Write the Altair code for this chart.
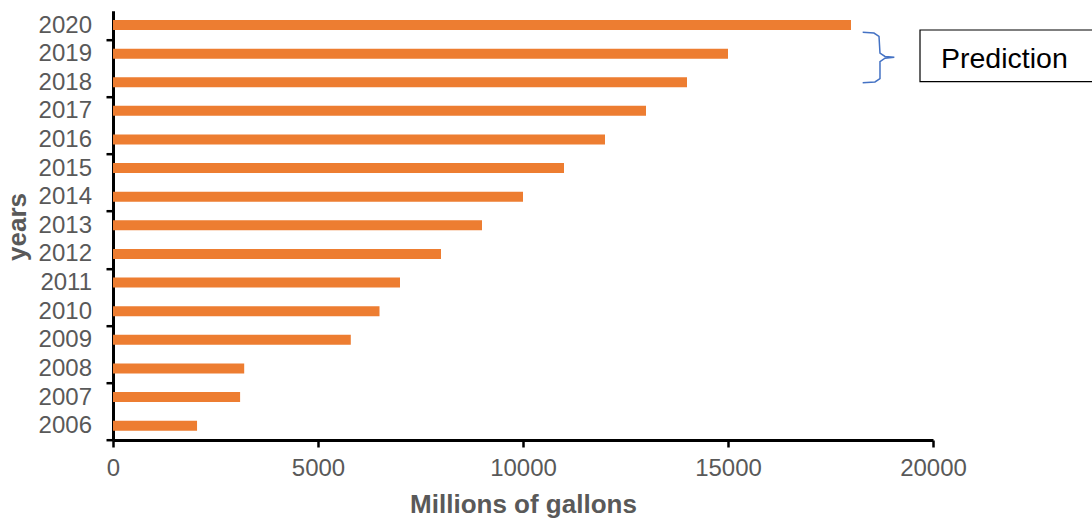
import altair as alt
import pandas as pd

# Annual volume, millions of gallons (2018-2020 are projections)
years = list(range(2006, 2021))
gallons = [2050, 3100, 3200, 5800, 6500, 7000, 8000, 9000, 10000,
           11000, 12000, 13000, 14000, 15000, 18000]

x_ticks = [0, 5000, 10000, 15000, 20000]
# y tick marks sit on every second category boundary
group_edges = [2005.5, 2007.5, 2009.5, 2011.5, 2013.5, 2015.5, 2017.5, 2019.5]

# curly brace next to the projected years (data coordinates)
brace_x = [18285, 18560, 18683, 18707, 18829, 19056, 18829, 18707, 18707, 18585, 18285]
brace_y = [2019.745, 2019.72, 2019.60, 2019.02, 2018.90, 2018.87,
           2018.84, 2018.72, 2018.13, 2018.01, 2017.98]

# "Prediction" call-out box
box_x, box_x2 = [19683], [24100]
box_y, box_y2 = [2019.826], [2018.019]
note_text = ["Prediction"]
note_x, note_y = [20195], [2018.50]

X_DOMAIN = [0, 20000]
Y_DOMAIN = [2005.5, 2020.5]
GRAY = "#595959"
FONT = "Liberation Sans"

bars_df = pd.DataFrame({"year": years, "gallons": gallons})
brace_df = pd.DataFrame({"gallons": brace_x, "year": brace_y, "i": list(range(len(brace_x)))})
box_df = pd.DataFrame({"gallons": box_x, "x2": box_x2, "year": box_y, "y2": box_y2})
note_df = pd.DataFrame({"gallons": note_x, "year": note_y, "t": note_text})

y_values = sorted(group_edges + years)

x_axis = alt.Axis(
    values=x_ticks, tickCount=50, format="d", grid=False,
    domainColor="black", domainWidth=3,
    tickColor="black", tickWidth=2.5, tickSize=7,
    labelFont=FONT, labelFontSize=24, labelColor=GRAY, labelPadding=9,
    labelFlush=False, labelOverlap=False,
    title="Millions of gallons", titleFont=FONT, titleFontSize=26,
    titleFontWeight="bold", titleColor=GRAY,
    titleX=410, titleY=72.5, titleAlign="center", titleBaseline="alphabetic",
)

# labels on whole years, tick marks only on the half-year boundaries
y_axis = alt.Axis(
    values=y_values, tickCount=100, tickMinStep=0.1, grid=False,
    domainColor="black", domainWidth=3,
    tickColor="black", tickWidth=2.5, tickSize=7,
    tickOpacity={"condition": {"test": "datum.value % 1 != 0", "value": 1}, "value": 0},
    labelExpr="datum.value % 1 == 0 ? format(datum.value, 'd') : ''",
    labelFont=FONT, labelFontSize=24, labelColor=GRAY, labelPadding=14.5,
    labelFlush=False, labelOverlap=False, labelBaseline="middle",
    title="years", titleFont=FONT, titleFontSize=26,
    titleFontWeight="bold", titleColor=GRAY, titleAngle=270,
    titleX=-88, titleY=215.8, titleAlign="center", titleBaseline="alphabetic",
)

xs = alt.Scale(domain=X_DOMAIN, nice=False, zero=False, padding=0)
ys = alt.Scale(domain=Y_DOMAIN, nice=False, zero=False, padding=0)

X = alt.X("gallons:Q", scale=xs, axis=x_axis)
Y = alt.Y("year:Q", scale=ys, axis=y_axis)

bars = alt.Chart(bars_df).mark_bar(orient="horizontal", size=10, color="#ED7D31").encode(
    x=X, y=Y,
)

brace = alt.Chart(brace_df).mark_line(color="#4472C4", strokeWidth=1.5).encode(
    x=X, y=Y, order="i:Q",
)

box = alt.Chart(box_df).mark_rect(fill="white", stroke="black", strokeWidth=1.2).encode(
    x=X, x2="x2:Q", y=Y, y2="y2:Q",
)

note = alt.Chart(note_df).mark_text(
    font=FONT, fontSize=28.5, color="black", align="left", baseline="alphabetic"
).encode(
    x=X, y=Y, text="t:N",
)

chart = alt.layer(bars, brace, box, note).properties(
    width=820,
    height=429.3,
    autosize=alt.AutoSizeParams(type="none"),
    padding={"left": 113, "top": 10.7, "right": 159, "bottom": 78},
    background="white",
).configure_view(stroke=None)

chart.save("out.html", embed_options={"renderer": "svg", "actions": False})
